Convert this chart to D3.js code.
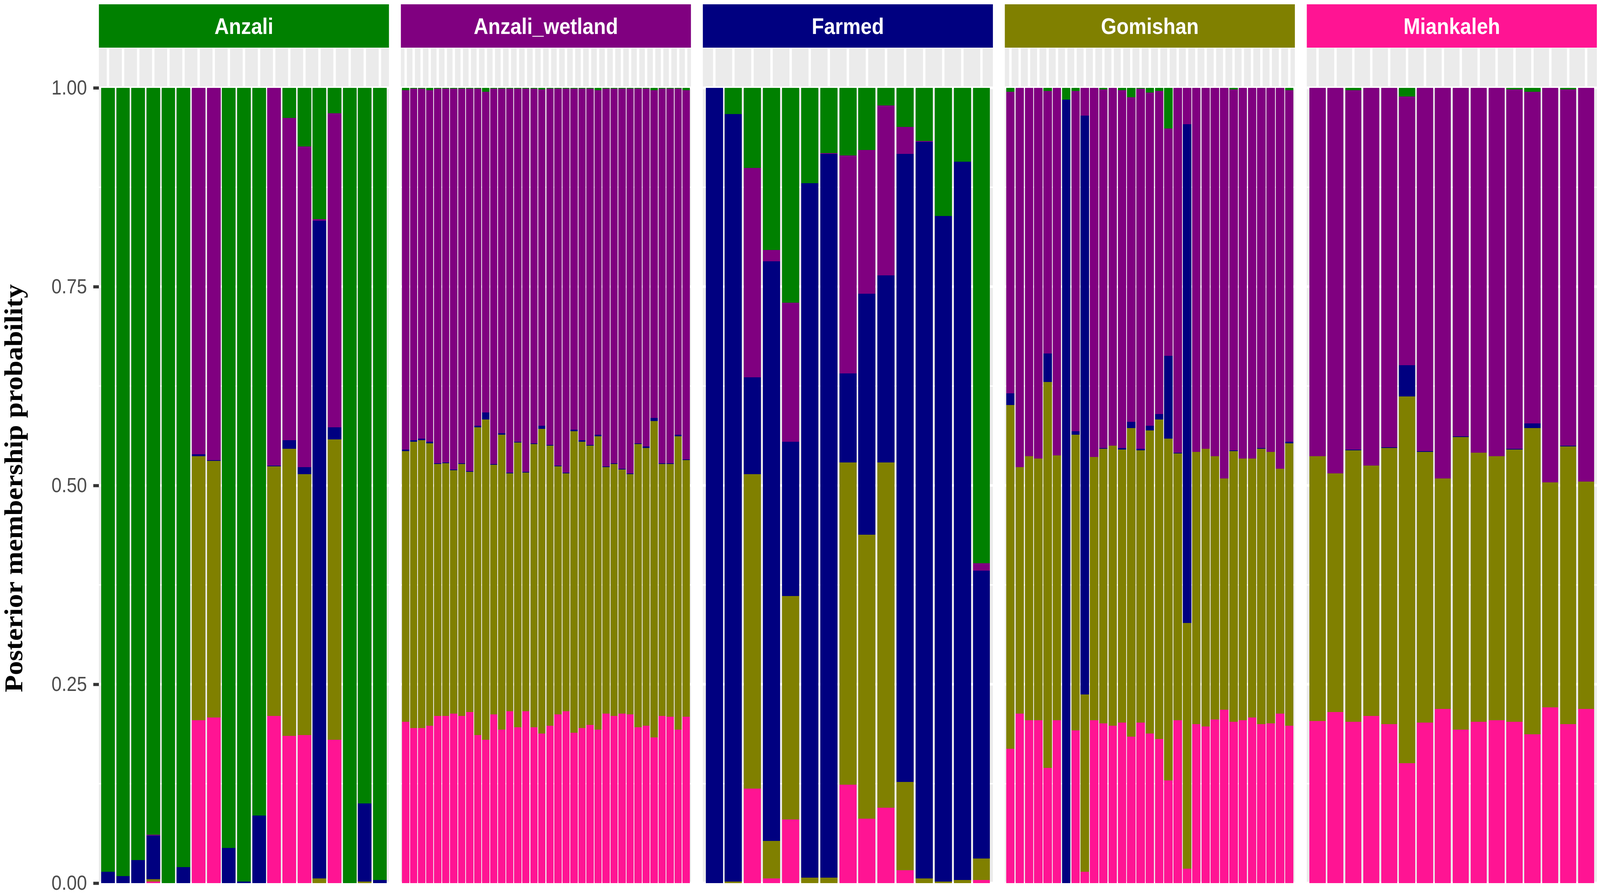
<!DOCTYPE html>
<html>
<head>
<meta charset="utf-8">
<script src="https://cdn.jsdelivr.net/npm/d3@7"></script>
<style>
  html, body { margin: 0; padding: 0; width: 100%; height: 100%; overflow: hidden; background: #ffffff; }
  #chart, #chart svg { display: block; width: 100vw; height: 100vh; }
</style>
</head>
<body>
<div id="chart"></div>
<script>
const populations = ["Anzali", "Anzali_wetland", "Farmed", "Gomishan", "Miankaleh"];
const stripColors = ["#008000", "#800080", "#000080", "#808000", "#FF1493"];
// clusters, bottom of the stack first
const clusters = ["pink", "olive", "navy", "purple", "green"];
const clusterColors = ["#FF1493", "#808000", "#000080", "#800080", "#008000"];
const yTicks = [0, 0.25, 0.5, 0.75, 1];

// one row per individual: [pink, olive, navy, purple, green]
const anzali = [
  [0, 0, .014, 0, .986], [0, 0, .009, 0, .991], [0, 0, .029, 0, .971],
  [.002, .003, .055, .001, .939], [0, 0, 0, 0, 1], [0, 0, .020, 0, .980],
  [.205, .332, .002, .461, 0], [.208, .323, .001, .468, 0], [0, 0, .044, 0, .956],
  [0, 0, .002, 0, .998], [0, 0, .085, 0, .915], [.210, .314, .001, .475, 0],
  [.185, .361, .011, .405, .038], [.186, .328, .009, .403, .074], [0, .006, .827, .002, .165],
  [.180, .378, .015, .395, .032], [0, 0, 0, 0, 1], [0, .002, .098, 0, .900],
  [0, 0, .004, 0, .996]
];

const anzaliWetland = [
  [.203, .340, .002, .452, .003], [.195, .360, .002, .442, .001], [.195, .362, .002, .440, .001],
  [.198, .355, .002, .442, .003], [.210, .317, .001, .471, .001], [.210, .318, .001, .470, .001],
  [.213, .306, .001, .479, .001], [.210, .317, .001, .471, .001], [.215, .302, .001, .481, .001],
  [.186, .387, .002, .424, .001], [.180, .403, .009, .403, .005], [.212, .314, .001, .472, .001],
  [.193, .371, .002, .433, .001], [.216, .299, .001, .483, .001], [.196, .358, .001, .444, .001],
  [.216, .300, .001, .482, .001], [.196, .356, .001, .446, .001], [.188, .383, .004, .423, .002],
  [.198, .352, .001, .448, .001], [.212, .312, .001, .474, .001], [.216, .299, .001, .483, .001],
  [.189, .379, .002, .429, .001], [.195, .360, .002, .442, .001], [.199, .351, .001, .448, .001],
  [.193, .369, .002, .433, .003], [.213, .310, .001, .475, .001], [.210, .317, .001, .471, .001],
  [.213, .307, .001, .478, .001], [.212, .302, .001, .484, .001], [.196, .356, .001, .446, .001],
  [.198, .349, .002, .450, .001], [.183, .398, .004, .412, .003], [.210, .317, .001, .471, .001],
  [.209, .318, .001, .471, .001], [.193, .369, .002, .435, .001], [.209, .323, .001, .464, .003]
];

const farmed = [
  [0, 0, 1, 0, 0], [0, .002, .965, 0, .033], [.119, .395, .122, .263, .101],
  [.006, .047, .729, .014, .204], [.080, .281, .194, .175, .270], [0, .007, .873, 0, .120],
  [0, .007, .910, .001, .082], [.124, .405, .112, .274, .085], [.081, .357, .303, .181, .078],
  [.095, .434, .235, .214, .022], [.016, .111, .790, .034, .049], [0, .006, .926, .001, .067],
  [0, .002, .837, 0, .161], [0, .004, .903, 0, .093], [.004, .027, .362, .009, .598]
];

const gomishan = [
  [.169, .432, .015, .379, .005], [.213, .310, 0, .477, 0], [.205, .332, 0, .463, 0],
  [.205, .329, 0, .466, 0], [.145, .485, .036, .330, .004], [.205, .333, 0, .462, 0],
  [0, 0, .985, 0, .015], [.192, .372, .004, .428, .004], [.014, .223, .728, .035, 0],
  [.205, .331, 0, .464, 0], [.201, .345, .001, .451, .002], [.198, .352, 0, .450, 0],
  [.202, .343, .002, .450, .003], [.184, .388, .008, .408, .012], [.202, .342, .002, .453, .001],
  [.188, .381, .006, .419, .006], [.181, .402, .007, .406, .004], [.129, .430, .104, .286, .051],
  [.205, .335, .001, .459, 0], [.018, .309, .627, .046, 0], [.200, .342, 0, .458, 0],
  [.197, .349, 0, .454, 0], [.206, .331, 0, .463, 0], [.218, .291, 0, .491, 0],
  [.203, .340, .001, .454, .002], [.205, .329, 0, .466, 0], [.208, .326, 0, .466, 0],
  [.200, .346, .001, .453, 0], [.201, .341, 0, .458, 0], [.213, .308, 0, .479, 0],
  [.198, .355, .002, .442, .003]
];

const miankaleh = [
  [.204, .333, 0, .463, 0], [.215, .300, 0, .485, 0], [.203, .341, .001, .452, .003],
  [.210, .315, 0, .475, 0], [.200, .347, .001, .452, 0], [.151, .461, .039, .338, .011],
  [.202, .340, .001, .457, 0], [.219, .290, 0, .491, 0], [.193, .368, .001, .438, 0],
  [.203, .338, 0, .459, 0], [.205, .332, 0, .463, 0], [.203, .342, .001, .452, .002],
  [.187, .385, .006, .417, .005], [.221, .283, 0, .496, 0], [.200, .349, .001, .448, .002],
  [.219, .286, 0, .495, 0]
];

const membership = [anzali, anzaliWetland, farmed, gomishan, miankaleh];

const width = 4562;
const height = 2294;
const panelLeft = 282;
const panelWidth = 827;
const panelGap = 34;
const stripTop = 11;
const stripBottom = 122;
const panelTop = 123;
const panelBottom = 2261;

// drawn in a fixed 4562x2294 coordinate box that is fitted to the window
const svg = d3.select("#chart")
  .append("svg")
  .attr("viewBox", `0 0 ${width} ${height}`)
  .attr("preserveAspectRatio", "none");

svg.append("rect")
  .attr("width", width)
  .attr("height", height)
  .attr("fill", "#ffffff");

// top 5% of each panel is empty expansion above 1.00
const y = d3.scaleLinear()
  .domain([0, 1.05])
  .range([panelBottom, panelTop]);

const stack = d3.stack().keys(d3.range(clusters.length));

populations.forEach((pop, i) => {
  const x0 = panelLeft + i * (panelWidth + panelGap);
  const rows = membership[i];

  const x = d3.scaleBand()
    .domain(d3.range(rows.length))
    .range([x0, x0 + panelWidth])
    .paddingInner(0.1)
    .paddingOuter(0.15);

  const g = svg.append("g");

  g.append("rect")
    .attr("x", x0)
    .attr("y", panelTop)
    .attr("width", panelWidth)
    .attr("height", panelBottom - panelTop)
    .attr("fill", "#EBEBEB");

  // minor then major horizontal grid
  g.selectAll(".minor")
    .data([0.125, 0.375, 0.625, 0.875])
    .join("line")
    .attr("x1", x0).attr("x2", x0 + panelWidth)
    .attr("y1", d => y(d)).attr("y2", d => y(d))
    .attr("stroke", "#ffffff")
    .attr("stroke-width", 3.4);

  g.selectAll(".major")
    .data(yTicks)
    .join("line")
    .attr("x1", x0).attr("x2", x0 + panelWidth)
    .attr("y1", d => y(d)).attr("y2", d => y(d))
    .attr("stroke", "#ffffff")
    .attr("stroke-width", 6.8);

  g.selectAll(".vgrid")
    .data(x.domain())
    .join("line")
    .attr("x1", d => x(d) + x.bandwidth() / 2)
    .attr("x2", d => x(d) + x.bandwidth() / 2)
    .attr("y1", panelTop).attr("y2", panelBottom)
    .attr("stroke", "#ffffff")
    .attr("stroke-width", 6.8);

  const series = stack(rows);

  g.selectAll(".layer")
    .data(series)
    .join("g")
    .attr("fill", (s, k) => clusterColors[k])
    .selectAll("rect")
    .data(s => s.map((d, j) => ({ j, y0: d[0], y1: d[1] })))
    .join("rect")
    .attr("x", d => x(d.j))
    .attr("y", d => y(d.y1))
    .attr("width", x.bandwidth())
    .attr("height", d => y(d.y0) - y(d.y1))
    .attr("shape-rendering", "crispEdges");

  // facet strip
  g.append("rect")
    .attr("x", x0)
    .attr("y", stripTop)
    .attr("width", panelWidth)
    .attr("height", stripBottom - stripTop)
    .attr("fill", stripColors[i]);

  g.append("text")
    .attr("x", x0 + panelWidth / 2)
    .attr("y", (stripTop + stripBottom) / 2)
    .attr("dy", "0.36em")
    .attr("text-anchor", "middle")
    .attr("fill", "#ffffff")
    .attr("font-family", "Liberation Sans, Arial, sans-serif")
    .attr("font-weight", "bold")
    .attr("font-size", 57)
    .text(pop);
});

const yAxis = svg.append("g")
  .attr("transform", `translate(${panelLeft},0)`)
  .call(d3.axisLeft(y)
    .tickValues(yTicks)
    .tickFormat(d3.format(".2f"))
    .tickSize(16)
    .tickPadding(18));

yAxis.select(".domain").remove();
yAxis.selectAll(".tick line")
  .attr("stroke", "#333333")
  .attr("stroke-width", 8);
yAxis.selectAll(".tick text")
  .attr("fill", "#4D4D4D")
  .attr("font-family", "Liberation Sans, Arial, sans-serif")
  .attr("font-size", 52);

svg.append("text")
  .attr("transform", "rotate(-90)")
  .attr("x", -1250)
  .attr("y", 64)
  .attr("text-anchor", "middle")
  .attr("fill", "#000000")
  .attr("font-family", "Liberation Serif, Times New Roman, serif")
  .attr("font-weight", "bold")
  .attr("font-size", 72)
  .text("Posterior membership probability");
</script>
</body>
</html>
